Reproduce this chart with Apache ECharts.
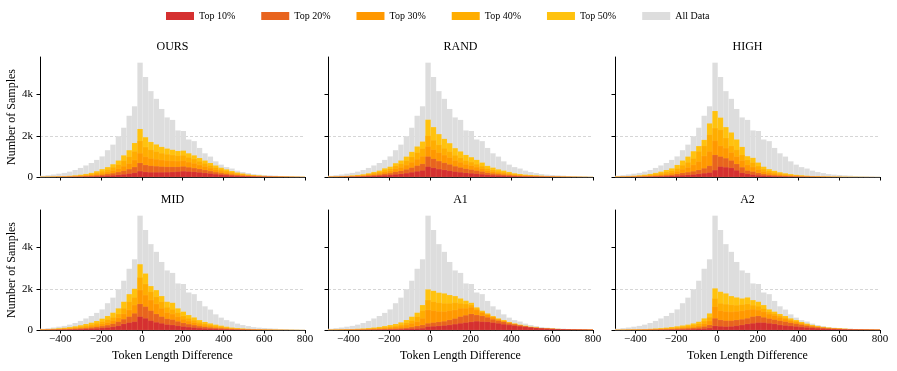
<!DOCTYPE html>
<html>
<head>
<meta charset="utf-8">
<title>Token Length Difference</title>
<script src="https://cdn.jsdelivr.net/npm/echarts@6/dist/echarts.min.js"></script>
<style>
  html, body { margin: 0; padding: 0; background: #fff; }
  #chart { width: 897px; height: 371px; }
</style>
</head>
<body>
<div id="chart"></div>
<script>
// histogram bins: 49 bins from -500 to 800
const binMin = -500
const binMax = 800
const binCount = 49

// all data (same in every panel)
const allData = [60, 90, 120, 160, 200, 260, 340, 440, 560, 680, 830, 1000, 1300, 1570, 1980, 2390, 2970, 3430, 5545, 4850, 4165, 3790, 3300, 2890, 2770, 2260, 2230, 1820, 1740, 1410, 1150, 990, 760, 600, 480, 410, 310, 240, 190, 140, 115, 95, 80, 65, 50, 42, 35, 28, 20]

// OURS
const ours50 = [15, 20, 25, 35, 45, 60, 80, 110, 150, 200, 280, 380, 480, 620, 800, 1050, 1300, 1650, 2330, 1930, 1700, 1580, 1460, 1380, 1320, 1260, 1280, 1150, 1050, 920, 800, 680, 560, 450, 370, 290, 220, 170, 125, 95, 75, 58, 46, 36, 28, 22, 17, 13, 9]
const ours40 = [10, 14, 18, 25, 32, 42, 58, 80, 110, 150, 210, 280, 360, 470, 600, 790, 980, 1240, 1750, 1450, 1320, 1230, 1150, 1100, 1060, 1030, 1050, 950, 870, 760, 660, 560, 460, 370, 300, 235, 178, 138, 100, 77, 60, 46, 37, 29, 22, 17, 13, 10, 7]
const ours30 = [7, 9, 12, 16, 21, 28, 38, 52, 72, 98, 135, 180, 240, 310, 400, 520, 650, 820, 1150, 980, 900, 860, 820, 790, 780, 770, 790, 720, 660, 580, 505, 430, 350, 280, 228, 178, 135, 104, 76, 58, 45, 35, 28, 22, 17, 13, 10, 8, 5]
const ours20 = [4, 5, 7, 9, 12, 16, 22, 30, 42, 57, 78, 105, 140, 180, 235, 300, 380, 480, 680, 580, 540, 520, 500, 490, 490, 490, 510, 470, 430, 385, 335, 285, 232, 186, 150, 118, 90, 69, 51, 39, 30, 24, 19, 15, 11, 9, 7, 5, 3]
const ours10 = [2, 2, 3, 4, 5, 7, 9, 12, 17, 23, 32, 43, 57, 75, 98, 125, 160, 200, 280, 240, 225, 225, 225, 230, 240, 255, 275, 260, 245, 220, 192, 165, 134, 108, 87, 69, 53, 41, 31, 24, 18, 14, 11, 9, 7, 5, 4, 3, 2]

// RAND
const rand50 = [22, 30, 40, 55, 75, 100, 130, 180, 245, 310, 420, 500, 670, 800, 990, 1220, 1480, 1720, 2780, 2420, 2080, 1850, 1640, 1400, 1240, 1070, 960, 830, 700, 540, 455, 370, 310, 245, 180, 146, 114, 98, 80, 65, 50, 40, 32, 25, 20, 15, 12, 9, 6]
const rand40 = [17, 24, 32, 44, 60, 80, 104, 144, 196, 248, 336, 400, 536, 640, 790, 975, 1185, 1380, 2000, 1780, 1560, 1390, 1230, 1050, 930, 800, 720, 620, 525, 405, 340, 278, 232, 184, 135, 110, 86, 74, 60, 49, 38, 30, 24, 19, 15, 11, 9, 7, 5]
const rand30 = [13, 17, 23, 32, 43, 58, 75, 104, 142, 180, 244, 290, 390, 465, 575, 710, 860, 1000, 1480, 1330, 1180, 1060, 940, 800, 710, 610, 548, 474, 400, 308, 260, 211, 177, 140, 103, 83, 65, 56, 46, 37, 29, 23, 18, 14, 11, 9, 7, 5, 3]
const rand20 = [8, 11, 15, 20, 28, 37, 48, 67, 91, 115, 155, 185, 248, 296, 366, 452, 548, 636, 990, 880, 770, 685, 607, 518, 459, 396, 355, 307, 259, 200, 168, 137, 115, 91, 67, 54, 42, 36, 30, 24, 19, 15, 12, 9, 7, 6, 4, 3, 2]
const rand10 = [4, 5, 7, 10, 14, 18, 24, 33, 45, 57, 77, 92, 123, 147, 182, 225, 272, 316, 500, 440, 380, 338, 300, 256, 227, 196, 176, 152, 128, 99, 83, 68, 57, 45, 33, 27, 21, 18, 15, 12, 9, 7, 6, 5, 4, 3, 2, 2, 1]

// HIGH
const high50 = [24, 32, 45, 60, 80, 110, 150, 200, 260, 340, 420, 585, 800, 990, 1250, 1500, 1800, 2600, 3200, 2880, 2420, 2160, 1820, 1460, 1010, 930, 700, 500, 380, 300, 230, 180, 140, 105, 82, 64, 50, 40, 32, 25, 20, 16, 13, 10, 8, 6, 5, 4, 3]
const high40 = [17, 23, 32, 43, 57, 78, 106, 142, 185, 240, 300, 415, 570, 710, 900, 1240, 1510, 2050, 2370, 2290, 1890, 1510, 1320, 1070, 830, 700, 530, 380, 290, 225, 172, 135, 105, 79, 62, 48, 37, 29, 23, 18, 14, 11, 9, 7, 6, 5, 4, 3, 2]
const high30 = [11, 15, 21, 28, 37, 50, 68, 92, 120, 155, 195, 270, 370, 460, 585, 750, 1020, 1240, 1760, 1510, 1400, 1190, 990, 800, 585, 480, 365, 262, 200, 155, 118, 92, 72, 54, 42, 33, 25, 20, 16, 12, 10, 8, 6, 5, 4, 3, 3, 2, 1]
const high20 = [6, 8, 11, 15, 20, 27, 37, 50, 66, 85, 107, 145, 195, 230, 275, 340, 420, 540, 1070, 990, 910, 800, 630, 470, 310, 260, 195, 140, 107, 83, 63, 49, 38, 29, 22, 17, 13, 10, 8, 6, 5, 4, 3, 3, 2, 2, 1, 1, 1]
const high10 = [3, 4, 5, 7, 9, 12, 16, 22, 29, 38, 48, 62, 80, 98, 114, 146, 180, 210, 330, 500, 470, 440, 320, 200, 150, 110, 80, 60, 45, 34, 26, 20, 15, 12, 9, 7, 5, 4, 3, 2, 2, 2, 1, 1, 1, 1, 1, 0, 0]

// MID
const mid50 = [38, 50, 65, 85, 110, 140, 180, 230, 290, 355, 435, 550, 680, 840, 1050, 1370, 1740, 2000, 3190, 2740, 2130, 1935, 1645, 1370, 1320, 1050, 890, 725, 610, 480, 390, 320, 260, 210, 160, 120, 95, 75, 58, 45, 35, 28, 22, 17, 13, 10, 8, 6, 4]
const mid40 = [28, 37, 48, 63, 82, 104, 134, 170, 215, 265, 325, 410, 510, 610, 775, 1050, 1370, 1580, 2550, 2230, 1855, 1610, 1370, 1100, 1000, 840, 680, 565, 470, 370, 300, 245, 198, 160, 122, 92, 72, 57, 44, 34, 27, 21, 17, 13, 10, 8, 6, 5, 3]
const mid30 = [20, 26, 34, 45, 58, 74, 95, 120, 152, 187, 230, 290, 360, 450, 590, 775, 970, 1210, 1935, 1690, 1450, 1260, 1050, 840, 770, 640, 520, 430, 360, 282, 228, 186, 150, 122, 93, 70, 55, 43, 33, 26, 20, 16, 13, 10, 8, 6, 5, 4, 2]
const mid20 = [13, 17, 22, 29, 37, 47, 60, 77, 97, 120, 148, 186, 232, 300, 400, 520, 645, 805, 1260, 1130, 935, 775, 645, 540, 500, 415, 340, 280, 234, 183, 148, 121, 98, 79, 60, 46, 36, 28, 22, 17, 13, 10, 8, 7, 5, 4, 3, 2, 1]
const mid10 = [6, 8, 11, 14, 18, 23, 30, 38, 48, 60, 74, 93, 116, 150, 200, 290, 355, 400, 645, 565, 450, 370, 320, 260, 240, 200, 165, 136, 113, 88, 71, 58, 47, 38, 29, 22, 17, 14, 11, 8, 6, 5, 4, 3, 2, 2, 1, 1, 1]

// A1
const a1_50 = [18, 24, 30, 38, 48, 60, 75, 95, 120, 150, 190, 240, 290, 370, 485, 645, 840, 1210, 1970, 1900, 1810, 1775, 1695, 1645, 1530, 1420, 1320, 1100, 935, 805, 680, 565, 485, 390, 320, 260, 210, 160, 125, 100, 80, 65, 55, 45, 38, 33, 28, 24, 18]
const a1_40 = [13, 17, 21, 27, 34, 42, 53, 67, 85, 106, 134, 170, 205, 262, 344, 458, 645, 935, 1450, 1370, 1320, 1290, 1290, 1320, 1290, 1260, 1210, 1050, 890, 760, 640, 530, 455, 365, 300, 244, 197, 150, 117, 94, 75, 61, 52, 42, 36, 31, 26, 22, 17]
const a1_30 = [9, 12, 15, 19, 24, 30, 37, 47, 60, 75, 95, 120, 145, 185, 240, 320, 400, 565, 970, 935, 900, 890, 935, 970, 1050, 1050, 1100, 970, 840, 740, 620, 515, 440, 355, 292, 238, 192, 147, 114, 92, 73, 60, 50, 41, 35, 30, 25, 21, 16]
const a1_20 = [5, 6, 8, 10, 12, 15, 19, 24, 30, 37, 45, 55, 66, 80, 105, 140, 190, 240, 320, 355, 390, 420, 485, 550, 645, 710, 775, 725, 680, 610, 515, 450, 390, 320, 275, 226, 186, 143, 111, 89, 71, 58, 48, 40, 34, 29, 24, 20, 15]
const a1_10 = [2, 3, 3, 4, 5, 6, 8, 10, 12, 15, 18, 22, 27, 35, 45, 55, 65, 80, 160, 175, 195, 215, 240, 280, 320, 355, 390, 420, 400, 390, 355, 320, 275, 240, 210, 180, 150, 125, 100, 80, 65, 55, 45, 38, 32, 27, 23, 19, 14]

// A2
const a2_50 = [14, 18, 23, 29, 37, 46, 58, 73, 92, 115, 145, 180, 220, 260, 320, 400, 565, 805, 2020, 1855, 1775, 1645, 1580, 1530, 1580, 1450, 1370, 1210, 1000, 890, 775, 680, 565, 485, 390, 310, 245, 190, 150, 118, 94, 76, 62, 51, 42, 36, 30, 25, 19]
const a2_40 = [10, 13, 17, 21, 27, 34, 43, 54, 68, 86, 108, 135, 165, 195, 240, 300, 430, 620, 1530, 1290, 1250, 1220, 1200, 1230, 1260, 1200, 1150, 1040, 880, 790, 690, 605, 505, 435, 350, 280, 220, 172, 136, 107, 86, 70, 57, 47, 39, 33, 28, 23, 18]
const a2_30 = [7, 9, 12, 15, 19, 24, 30, 37, 47, 59, 74, 92, 112, 135, 165, 210, 300, 440, 1130, 935, 890, 880, 900, 930, 980, 1000, 960, 880, 770, 700, 610, 535, 450, 385, 310, 250, 197, 155, 122, 97, 78, 64, 52, 43, 36, 31, 26, 21, 17]
const a2_20 = [5, 6, 8, 10, 12, 15, 19, 24, 30, 37, 46, 56, 68, 82, 100, 125, 170, 240, 565, 485, 450, 450, 485, 515, 565, 645, 680, 610, 550, 500, 445, 400, 345, 300, 250, 205, 165, 132, 105, 84, 68, 56, 46, 38, 32, 27, 23, 19, 15]
const a2_10 = [2, 2, 3, 3, 4, 5, 6, 8, 10, 12, 15, 19, 24, 30, 38, 48, 65, 90, 195, 175, 160, 170, 200, 240, 290, 320, 355, 355, 320, 290, 240, 215, 190, 165, 140, 118, 98, 80, 65, 53, 43, 36, 30, 25, 21, 18, 15, 12, 10]

const panelNames = ['OURS', 'RAND', 'HIGH', 'MID', 'A1', 'A2']
// per panel: Top 50%, 40%, 30%, 20%, 10%
const panelLayers = [
  [ours50, ours40, ours30, ours20, ours10],
  [rand50, rand40, rand30, rand20, rand10],
  [high50, high40, high30, high20, high10],
  [mid50, mid40, mid30, mid20, mid10],
  [a1_50, a1_40, a1_30, a1_20, a1_10],
  [a2_50, a2_40, a2_30, a2_20, a2_10]
]
const layerNames = ['Top 50%', 'Top 40%', 'Top 30%', 'Top 20%', 'Top 10%']
const layerColors = ['#FFC20E', '#FFAD00', '#FF9800', '#E8641E', '#D53030']
const allColor = '#DDDDDD'

const xTicks = [-400, -200, 0, 200, 400, 600, 800]
const yTicks = [0, 2000, 4000]
const yMax = 5820

const font = 'Liberation Serif'
const gridLeft = [40, 328, 615]
const gridTop = [57, 210]
const gridW = 265
const gridH = 120

const binWidth = (binMax - binMin) / binCount
function toBins (arr) {
  return arr.map((v, i) => [binMin + i * binWidth, binMin + (i + 1) * binWidth, v])
}

function renderBin (params, api) {
  const p0 = api.coord([api.value(0), api.value(2)])
  const p1 = api.coord([api.value(1), 0])
  return {
    type: 'rect',
    shape: { x: p0[0], y: p0[1], width: p1[0] - p0[0], height: p1[1] - p0[1] },
    style: { fill: api.visual('color'), stroke: 'rgba(255,255,255,0.2)', lineWidth: 0.3 }
  }
}

function fmtX (v) {
  return v < 0 ? '\u2212' + Math.abs(v) : String(v)
}

const grids = []
const xAxes = []
const yAxes = []
const titles = []
const series = []

panelNames.forEach((name, p) => {
  const col = p % 3
  const row = Math.floor(p / 3)
  grids.push({ left: gridLeft[col], top: gridTop[row], width: gridW, height: gridH, outerBoundsMode: 'none' })
  titles.push({
    text: name,
    left: gridLeft[col] + gridW / 2,
    top: gridTop[row] - 16,
    textAlign: 'center',
    padding: 0,
    textStyle: { fontFamily: font, fontSize: 12, fontWeight: 'normal', color: '#000' }
  })
  xAxes.push({
    gridIndex: p,
    type: 'value',
    min: binMin,
    max: binMax,
    name: row === 1 ? 'Token Length Difference' : '',
    nameLocation: 'middle',
    nameGap: 20,
    nameTextStyle: { fontFamily: font, fontSize: 12, color: '#000' },
    axisLine: { show: true, onZero: false, lineStyle: { color: '#000', width: 1 } },
    axisTick: { show: true, length: 3.5, customValues: xTicks, lineStyle: { color: '#000' } },
    axisLabel: { show: row === 1, customValues: xTicks, margin: 4, formatter: fmtX, fontFamily: font, fontSize: 11, color: '#000' },
    splitLine: { show: false }
  })
  yAxes.push({
    gridIndex: p,
    type: 'value',
    min: 0,
    max: yMax,
    interval: 2000,
    name: col === 0 ? 'Number of Samples' : '',
    nameLocation: 'middle',
    nameGap: 20,
    nameTextStyle: { fontFamily: font, fontSize: 12, color: '#000' },
    axisLine: { show: true, onZero: false, lineStyle: { color: '#000', width: 1 } },
    axisTick: { show: true, length: 3.5, customValues: yTicks, lineStyle: { color: '#000' } },
    axisLabel: {
      show: col === 0,
      customValues: yTicks,
      margin: 7,
      formatter: v => (v === 0 ? '0' : v / 1000 + 'k'),
      fontFamily: font,
      fontSize: 11,
      color: '#000'
    },
    splitLine: { show: true, showMinLine: false, showMaxLine: false, lineStyle: { color: '#cccccc', type: [3, 2], width: 0.8 } }
  })
  // all data first, then top layers from 50% down to 10% on top
  series.push({
    name: 'All Data',
    type: 'custom',
    xAxisIndex: p,
    yAxisIndex: p,
    renderItem: renderBin,
    encode: { x: [0, 1], y: 2 },
    itemStyle: { color: allColor },
    silent: true,
    data: toBins(allData)
  })
  panelLayers[p].forEach((arr, l) => {
    series.push({
      name: layerNames[l],
      type: 'custom',
      xAxisIndex: p,
      yAxisIndex: p,
      renderItem: renderBin,
      encode: { x: [0, 1], y: 2 },
      itemStyle: { color: layerColors[l] },
      silent: true,
      data: toBins(arr)
    })
  })
})

const chart = echarts.init(document.getElementById('chart'), null, { renderer: 'canvas' })
chart.setOption({
  animation: false,
  backgroundColor: '#fff',
  title: titles,
  legend: {
    data: ['Top 10%', 'Top 20%', 'Top 30%', 'Top 40%', 'Top 50%', 'All Data'],
    left: 166,
    top: 11,
    icon: 'rect',
    itemWidth: 28,
    itemHeight: 8,
    itemGap: 26,
    padding: 0,
    textStyle: { fontFamily: font, fontSize: 10, color: '#000' }
  },
  grid: grids,
  xAxis: xAxes,
  yAxis: yAxes,
  series: series
})
window.addEventListener('resize', () => {
  chart.resize()
})
</script>
</body>
</html>
